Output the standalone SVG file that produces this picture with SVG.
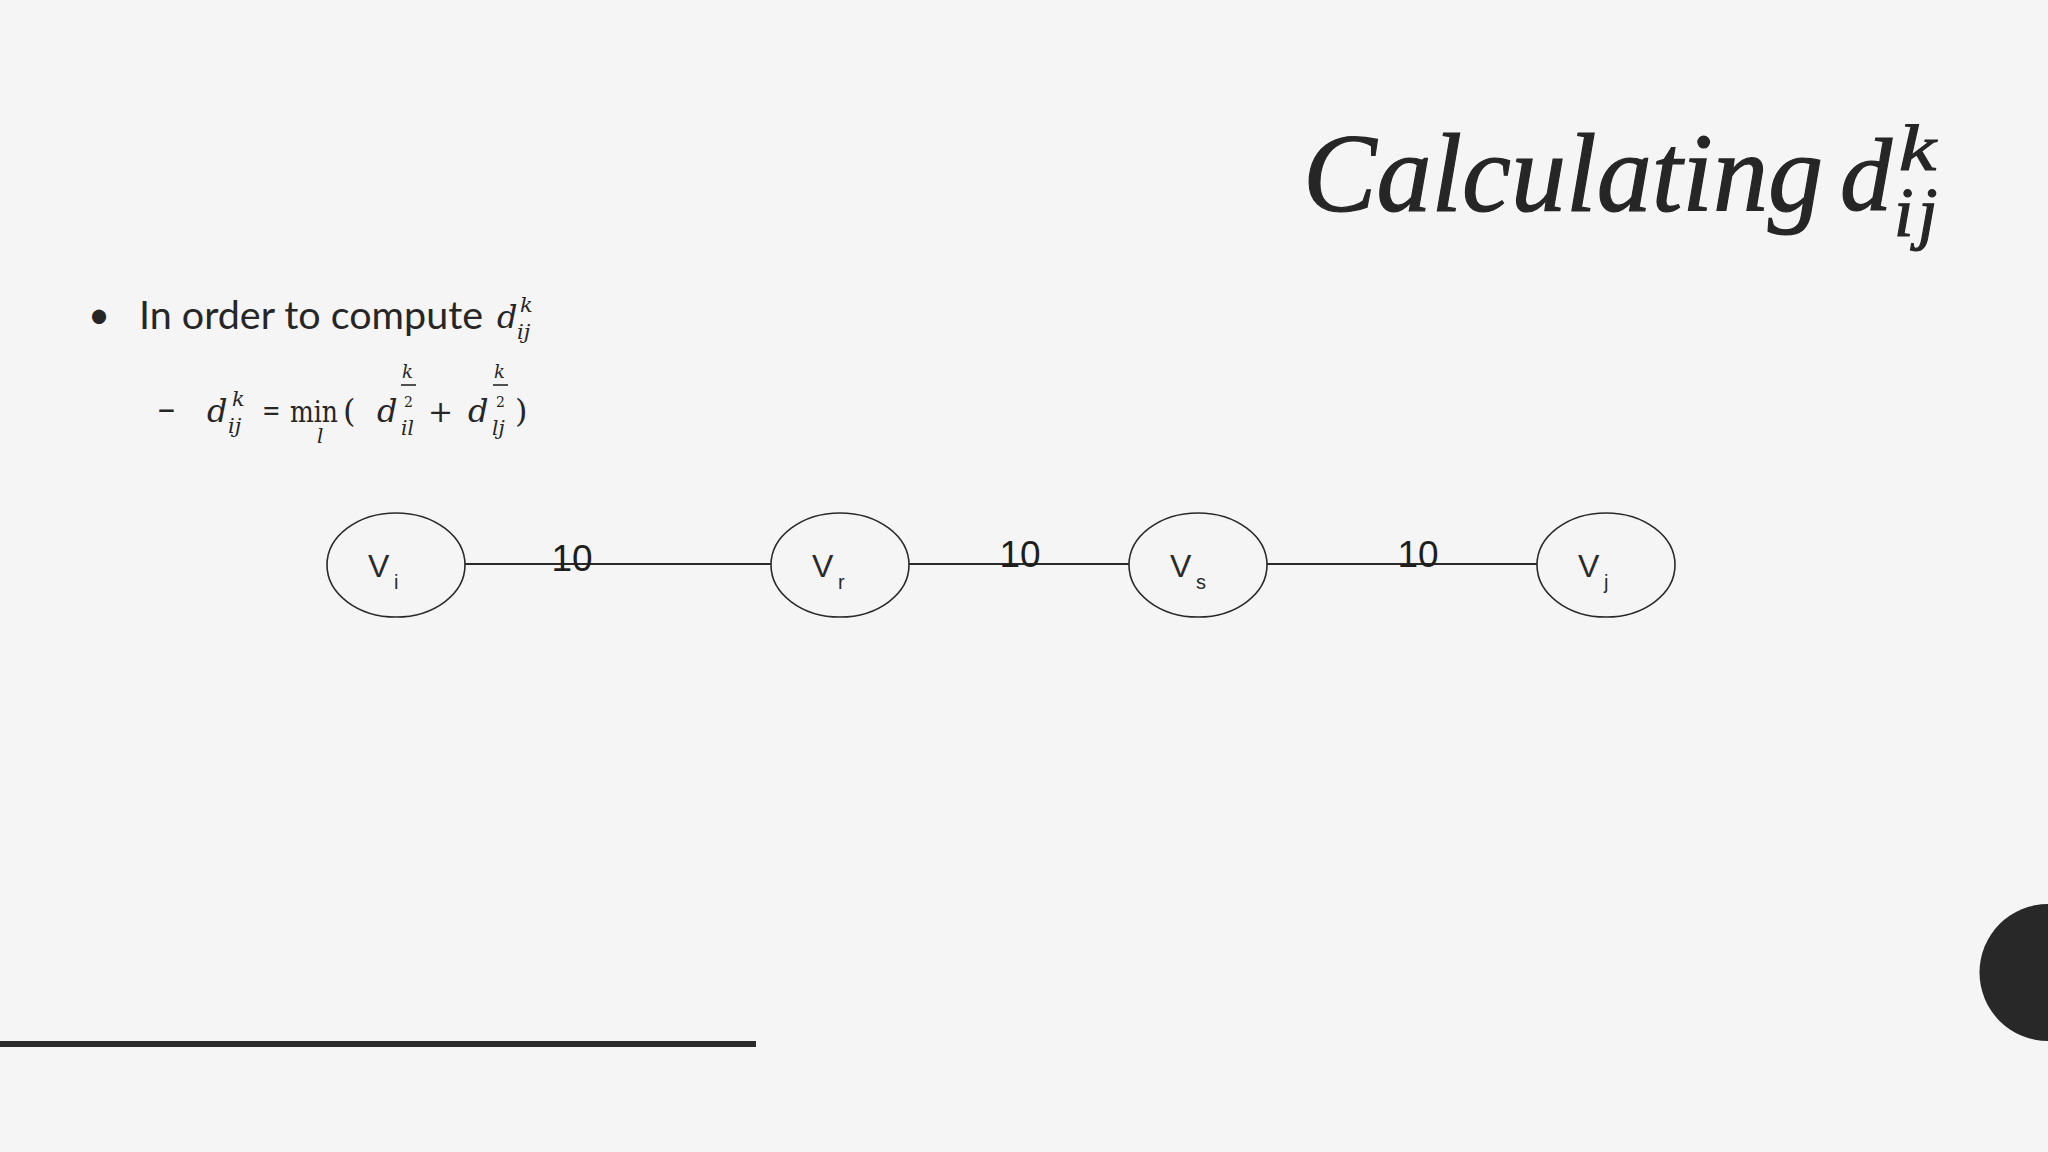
<svg xmlns="http://www.w3.org/2000/svg" width="2048" height="1152" viewBox="0 0 2048 1152">
<style>
.bg{fill:#f5f5f5}
.title{font-family:"Liberation Serif","Times New Roman",serif;font-style:italic;fill:#262626;stroke:#262626;stroke-width:1.2}
.body{font-family:Lato,"Open Sans",sans-serif;fill:#262626}
.m{font-family:"DejaVu Serif",serif;font-style:italic;fill:#262626}
.mu{font-family:"DejaVu Serif",serif;fill:#262626}
.node{fill:none;stroke:#2a2a2a;stroke-width:1.6}
.edge{stroke:#2a2a2a;stroke-width:2;fill:none}
.lbl{font-family:"Liberation Sans",Arial,sans-serif;font-size:37px;fill:#1e1e1e;text-anchor:middle}
.nv{font-family:"Liberation Sans",Arial,sans-serif;font-size:32px;fill:#2a2a2a}
.ns{font-family:"Liberation Sans",Arial,sans-serif;font-size:20px;fill:#2a2a2a}
</style>
<rect class="bg" x="0" y="0" width="2048" height="1152"/>

<g id="title">
<text class="title" x="1303" y="211" font-size="112" textLength="520" lengthAdjust="spacingAndGlyphs">Calculating</text>
<text class="title" x="1840" y="210" font-size="104" textLength="52" lengthAdjust="spacingAndGlyphs">d</text>
<text class="title" x="1899" y="170" font-size="66" textLength="37" lengthAdjust="spacingAndGlyphs">k</text>
<text class="title" x="1894" y="236" font-size="70">i</text>
<text class="title" x="1918" y="236" font-size="70">j</text>
</g>

<g id="bullets">
<text class="body" x="88" y="328" font-size="38">•</text>
<text class="body" x="139" y="329" font-size="38" textLength="344" lengthAdjust="spacingAndGlyphs">In order to compute</text>
<text class="m" x="497" y="328" font-size="32">d</text>
<text class="m" x="520" y="312" font-size="21">k</text>
<text class="m" x="517" y="339" font-size="21">ij</text>

<text class="body" x="156" y="422" font-size="36">–</text>
<text class="m" x="207" y="422" font-size="32">d</text>
<text class="m" x="232" y="406" font-size="21">k</text>
<text class="m" x="228" y="433" font-size="21">ij</text>
<text class="body" x="262" y="422" font-size="32">=</text>
<text class="mu" x="290" y="422" font-size="30" textLength="48" lengthAdjust="spacingAndGlyphs">min</text>
<text class="m" x="317" y="443" font-size="20">l</text>
<text class="mu" x="343" y="422" font-size="32">(</text>
<text class="m" x="377" y="422" font-size="32">d</text>
<text class="m" x="402" y="378" font-size="18">k</text>
<line x1="401" y1="385" x2="416" y2="385" stroke="#262626" stroke-width="1.6"/>
<text class="mu" x="404" y="407" font-size="14">2</text>
<text class="m" x="401" y="435" font-size="20">il</text>
<text class="mu" x="428" y="422" font-size="30">+</text>
<text class="m" x="468" y="422" font-size="32">d</text>
<text class="m" x="494" y="378" font-size="18">k</text>
<line x1="493" y1="385" x2="508" y2="385" stroke="#262626" stroke-width="1.6"/>
<text class="mu" x="496" y="407" font-size="14">2</text>
<text class="m" x="492" y="435" font-size="20">lj</text>
<text class="mu" x="515" y="422" font-size="32">)</text>
</g>

<g id="connectors">
<line class="edge" x1="465" y1="564" x2="771" y2="564"/>
<line class="edge" x1="909" y1="564" x2="1129" y2="564"/>
<line class="edge" x1="1267" y1="564" x2="1537" y2="564"/>
<text class="lbl" x="572" y="571">10</text>
<text class="lbl" x="1020" y="567">10</text>
<text class="lbl" x="1418" y="567">10</text>
</g>

<g id="node-vi">
<ellipse class="node" cx="396" cy="565" rx="69" ry="52"/>
<text class="nv" x="368" y="577">V</text><text class="ns" x="394" y="589">i</text>
</g>
<g id="node-vr">
<ellipse class="node" cx="840" cy="565" rx="69" ry="52"/>
<text class="nv" x="812" y="577">V</text><text class="ns" x="838" y="589">r</text>
</g>
<g id="node-vs">
<ellipse class="node" cx="1198" cy="565" rx="69" ry="52"/>
<text class="nv" x="1170" y="577">V</text><text class="ns" x="1196" y="589">s</text>
</g>
<g id="node-vj">
<ellipse class="node" cx="1606" cy="565" rx="69" ry="52"/>
<text class="nv" x="1578" y="577">V</text><text class="ns" x="1604" y="589">j</text>
</g>

<g id="decor">
<rect x="0" y="1041" width="756" height="6" fill="#2a2a2a"/>
<circle cx="2048" cy="972.5" r="68.5" fill="#282828"/>
</g>
</svg>
